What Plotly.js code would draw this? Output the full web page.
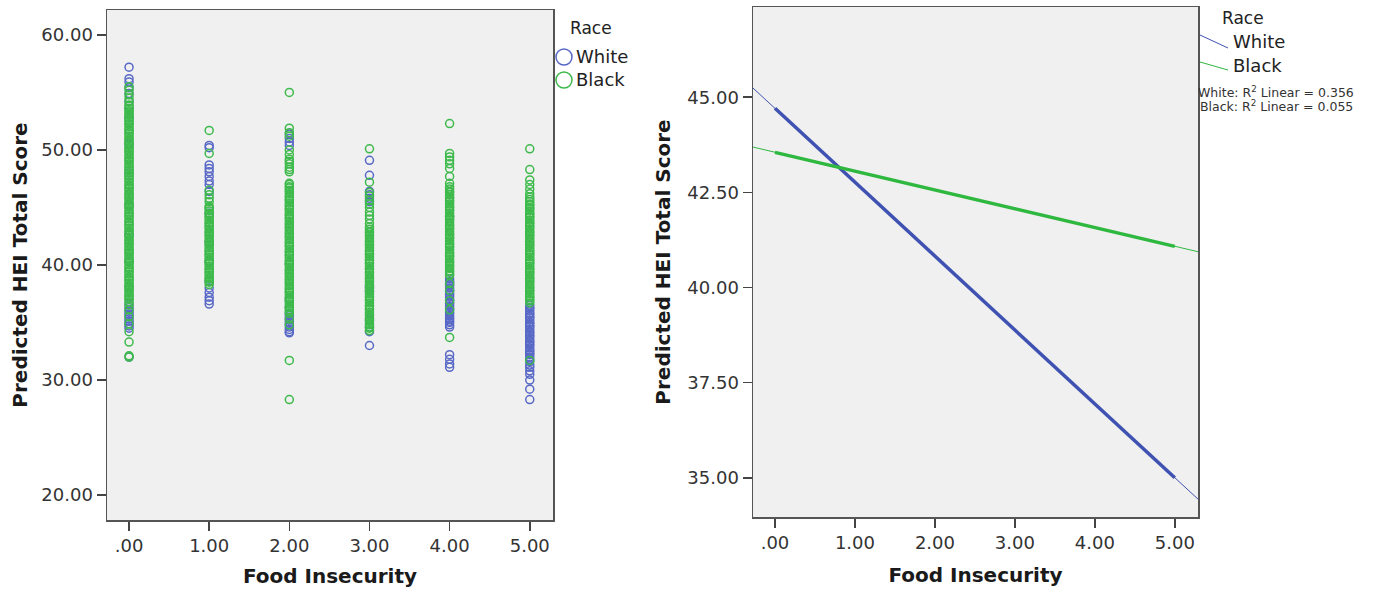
<!DOCTYPE html>
<html>
<head>
<meta charset="utf-8">
<script src="https://cdn.plot.ly/plotly-3.0.1.min.js"></script>
<style>html,body{margin:0;padding:0;background:#fff;}#chart{width:1375px;height:595px;}</style>
</head>
<body>
<div id="chart"></div>
<script>
// ---------- DATA ----------
const foodInsecurityLevels = [0, 1, 2, 3, 4, 5];
const xTickLabels = ['.00', '1.00', '2.00', '3.00', '4.00', '5.00'];
const leftYTicks = [20, 30, 40, 50, 60];
const rightYTicks = [35, 37.5, 40, 42.5, 45];

// Predicted HEI Total Score, White respondents, per food-insecurity level
const white_fi0 = [57.2, 56.2, 55.9, 55.4, 54.9, 54.2, 53.6, 52.8, 50.5, 48.0, 45.2, 42.6, 40.3, 38.1, 36.6, 36.3, 36.1, 35.9, 35.7, 35.5, 35.3, 35.1, 34.9, 34.7, 34.5, 32.0];
const white_fi1 = [50.4, 50.2, 48.7, 48.4, 48.1, 47.7, 47.3, 47.0, 46.4, 44.5, 42.0, 40.3, 38.6, 38.0, 37.6, 37.2, 36.9, 36.6];
const white_fi2 = [51.4, 51.0, 50.7, 50.4, 40.1, 37.0, 36.3, 35.8, 35.6, 35.4, 35.2, 35.0, 34.8, 34.6, 34.4, 34.2, 34.1];
const white_fi3 = [49.1, 47.8, 46.4, 46.1, 45.8, 45.5, 38.2, 38.0, 37.7, 35.2, 34.6, 34.2, 33.0];
const white_fi4 = [44.2, 38.8, 38.6, 38.5, 38.3, 38.2, 38.0, 37.8, 37.7, 37.5, 37.4, 37.2, 37.0, 36.9, 36.7, 36.6, 36.4, 36.2, 36.1, 35.9, 35.8, 35.6, 35.4, 35.3, 35.1, 35.0, 34.8, 34.6, 32.2, 31.8, 31.4, 31.1];
const white_fi5 = [36.5, 36.3, 36.2, 36.0, 35.8, 35.7, 35.5, 35.4, 35.2, 35.0, 34.9, 34.7, 34.6, 34.4, 34.2, 34.1, 33.9, 33.8, 33.6, 33.4, 33.3, 33.1, 33.0, 32.8, 32.6, 32.5, 32.3, 32.2, 32.0, 31.8, 31.6, 31.3, 31.1, 30.8, 30.5, 30.0, 29.2, 28.3];

// Predicted HEI Total Score, Black respondents, per food-insecurity level
const black_fi0 = [32.0, 32.1, 33.3, 34.2, 34.9, 35.5, 36.1, 36.5,
  36.8, 37.0, 37.1, 37.3, 37.4, 37.6, 37.8, 37.9, 38.1, 38.2, 38.4, 38.6, 38.7, 38.9, 39.0, 39.2, 39.4, 39.5, 39.7, 39.8,
  40.0, 40.2, 40.3, 40.5, 40.6, 40.8, 41.0, 41.1, 41.3, 41.4, 41.6, 41.8, 41.9, 42.1, 42.2, 42.4, 42.6, 42.7, 42.9, 43.0,
  43.2, 43.4, 43.5, 43.7, 43.8, 44.0, 44.2, 44.3, 44.5, 44.6, 44.8, 45.0, 45.1, 45.3, 45.4, 45.6, 45.8, 45.9, 46.1, 46.2,
  46.4, 46.6, 46.7, 46.9, 47.0, 47.2, 47.4, 47.5, 47.7, 47.8, 48.0, 48.2, 48.3, 48.5, 48.6, 48.8, 49.0, 49.1, 49.3, 49.4,
  49.6, 49.8, 49.9, 50.1, 50.2, 50.4, 50.6, 50.7, 50.9, 51.0, 51.2, 51.4, 51.5, 51.7, 51.8, 52.0, 52.2, 52.3, 52.5, 52.6,
  52.8, 53.0, 53.1, 53.3, 53.4, 53.6, 53.8, 53.9, 54.2, 54.5, 54.8, 55.2, 55.5];
const black_fi1 = [38.3, 38.5, 38.6, 38.8, 38.9, 39.1, 39.3, 39.4, 39.6, 39.7, 39.9, 40.1, 40.2, 40.4, 40.5, 40.7, 40.9,
  41.0, 41.2, 41.3, 41.5, 41.7, 41.8, 42.0, 42.1, 42.3, 42.5, 42.6, 42.8, 42.9, 43.1, 43.3, 43.4, 43.6, 43.7, 43.9, 44.1,
  44.2, 44.4, 44.5, 44.7, 44.9, 45.0, 45.1, 45.5, 45.8, 46.1, 46.5, 49.7, 51.7];
const black_fi2 = [28.3, 31.7, 34.8, 35.3, 35.8, 36.0, 36.1, 36.3, 36.4, 36.6, 36.8, 36.9, 37.1, 37.2, 37.4, 37.6, 37.7,
  37.9, 38.0, 38.2, 38.4, 38.5, 38.7, 38.8, 39.0, 39.2, 39.3, 39.5, 39.6, 39.8, 40.0, 40.1, 40.3, 40.4, 40.6, 40.8, 40.9,
  41.1, 41.2, 41.4, 41.6, 41.7, 41.9, 42.0, 42.2, 42.4, 42.5, 42.7, 42.8, 43.0, 43.2, 43.3, 43.5, 43.6, 43.8, 44.0, 44.1,
  44.3, 44.4, 44.6, 44.8, 44.9, 45.1, 45.2, 45.4, 45.6, 45.7, 45.9, 46.0, 46.2, 46.4, 46.5, 46.7, 46.8, 47.0, 47.1,
  48.1, 48.3, 48.5, 48.8, 49.0, 49.2, 49.6, 50.0, 51.2, 51.5, 51.9, 55.0];
const black_fi3 = [34.3, 34.5, 34.6, 34.8, 34.9, 35.1, 35.3, 35.4, 35.6, 35.7, 35.9, 36.1, 36.2, 36.4, 36.5, 36.7, 36.9,
  37.0, 37.2, 37.3, 37.5, 37.7, 37.8, 38.0, 38.1, 38.3, 38.5, 38.6, 38.8, 38.9, 39.1, 39.3, 39.4, 39.6, 39.7, 39.9, 40.1,
  40.2, 40.4, 40.5, 40.7, 40.9, 41.0, 41.2, 41.3, 41.5, 41.7, 41.8, 42.0, 42.1, 42.3, 42.5, 42.6, 42.8, 42.9, 43.1, 43.3,
  43.6, 44.0, 44.3, 44.6, 45.0, 45.3, 45.6, 46.0, 46.3, 47.2, 50.1];
const black_fi4 = [33.7, 36.1, 36.9, 37.8, 38.4, 39.1, 39.2, 39.4, 39.5, 39.7, 39.9, 40.0, 40.2, 40.3, 40.5, 40.7, 40.8,
  41.0, 41.1, 41.3, 41.5, 41.6, 41.8, 41.9, 42.1, 42.3, 42.4, 42.6, 42.7, 42.9, 43.1, 43.2, 43.4, 43.5, 43.7, 43.9, 44.0,
  44.2, 44.3, 44.5, 44.7, 44.8, 45.0, 45.1, 45.3, 45.5, 45.6, 45.8, 45.9, 46.1, 46.3, 46.4, 46.6, 46.8, 47.1, 47.7,
  48.4, 48.8, 49.1, 49.4, 49.7, 52.3];
const black_fi5 = [31.7, 36.7, 36.9, 37.0, 37.2, 37.3, 37.5, 37.7, 37.8, 38.0, 38.1, 38.3, 38.5, 38.6, 38.8, 38.9, 39.1,
  39.3, 39.4, 39.6, 39.7, 39.9, 40.1, 40.2, 40.4, 40.5, 40.7, 40.9, 41.0, 41.2, 41.3, 41.5, 41.7, 41.8, 42.0, 42.1, 42.3,
  42.5, 42.6, 42.8, 42.9, 43.1, 43.3, 43.4, 43.6, 43.7, 43.9, 44.1, 44.2, 44.4, 44.5, 44.7, 44.9, 45.0, 45.2, 45.3, 45.5,
  45.7, 45.9, 46.2, 46.6, 47.0, 47.4, 48.3, 50.1];

// Fit lines (right panel): thick over observed range, thin extension to the axis edges
const fitX = [0, 5];
const whiteFit = [44.71, 35.00];
const blackFit = [43.55, 41.08];
const extX = [-0.275, 5.29];
const whiteExt = [45.24, 34.44];
const blackExt = [43.69, 40.94];
const r2Labels = ['White: R<sup>2</sup> Linear = 0.356', 'Black: R<sup>2</sup> Linear = 0.055'];
const raceNames = ['White', 'Black'];

// ---------- STYLE ----------
const W = 1375, H = 595;
const FONT = 'DejaVu Sans';
const BLUE_PT = '#5868c6', GREEN_PT = '#3dba4b';
const BLUE_LN = '#3f52b2', GREEN_LN = '#2fb83f';
const px = x => x / W;
const py = y => 1 - y / H;

function flatten(levels, groups) {
  const xs = [], ys = [];
  groups.forEach((g, i) => g.forEach(v => { xs.push(levels[i]); ys.push(v); }));
  return {x: xs, y: ys};
}
const white = flatten(foodInsecurityLevels, [white_fi0, white_fi1, white_fi2, white_fi3, white_fi4, white_fi5]);
const black = flatten(foodInsecurityLevels, [black_fi0, black_fi1, black_fi2, black_fi3, black_fi4, black_fi5]);

const ptMarker = c => ({symbol: 'circle-open', size: 8, color: c, line: {color: c, width: 1.5}});

const traces = [
  {type: 'scatter', mode: 'markers', name: raceNames[0], x: white.x, y: white.y, xaxis: 'x', yaxis: 'y', marker: ptMarker(BLUE_PT), showlegend: false},
  {type: 'scatter', mode: 'markers', name: raceNames[1], x: black.x, y: black.y, xaxis: 'x', yaxis: 'y', marker: ptMarker(GREEN_PT), showlegend: false},
  {type: 'scatter', mode: 'lines', name: raceNames[0], x: extX, y: whiteExt, xaxis: 'x2', yaxis: 'y2', line: {color: BLUE_LN, width: 1}, showlegend: false},
  {type: 'scatter', mode: 'lines', name: raceNames[1], x: extX, y: blackExt, xaxis: 'x2', yaxis: 'y2', line: {color: GREEN_LN, width: 1}, showlegend: false},
  {type: 'scatter', mode: 'lines', name: raceNames[0], x: fitX, y: whiteFit, xaxis: 'x2', yaxis: 'y2', line: {color: BLUE_LN, width: 3.5}, showlegend: false},
  {type: 'scatter', mode: 'lines', name: raceNames[1], x: fitX, y: blackFit, xaxis: 'x2', yaxis: 'y2', line: {color: GREEN_LN, width: 3.5}, showlegend: false}
];

const axisCommon = {
  showgrid: false, zeroline: false, showline: true, mirror: true,
  linecolor: '#555', linewidth: 1.5, ticks: 'outside', ticklen: 9, tickwidth: 1.5, tickcolor: '#444',
  tickfont: {family: FONT, size: 18, color: '#333'}, automargin: false
};
const titleFont = {family: FONT, size: 20, color: '#1a1a1a', weight: 'bold'};

const layout = {
  width: W, height: H,
  margin: {l: 0, r: 0, t: 0, b: 0},
  paper_bgcolor: '#ffffff', plot_bgcolor: '#f0f0f0',
  font: {family: FONT},
  showlegend: false,
  xaxis: Object.assign({}, axisCommon, {
    domain: [px(107), px(553)], range: [-0.275, 5.29], anchor: 'y',
    tickvals: foodInsecurityLevels, ticktext: xTickLabels,
    title: {text: 'Food Insecurity', font: titleFont, standoff: 14}
  }),
  yaxis: Object.assign({}, axisCommon, {
    domain: [py(520), py(10)], range: [17.83, 62.17], anchor: 'x',
    tickvals: leftYTicks, tickformat: '.2f',
    title: {text: 'Predicted HEI Total Score', font: titleFont, standoff: 8}
  }),
  xaxis2: Object.assign({}, axisCommon, {
    domain: [px(753), px(1198)], range: [-0.275, 5.29], anchor: 'y2',
    tickvals: foodInsecurityLevels, ticktext: xTickLabels,
    title: {text: 'Food Insecurity', font: titleFont, standoff: 16}
  }),
  yaxis2: Object.assign({}, axisCommon, {
    domain: [py(517), py(7)], range: [33.97, 47.37], anchor: 'x2',
    tickvals: rightYTicks, tickformat: '.2f',
    title: {text: 'Predicted HEI Total Score', font: titleFont, standoff: 11}
  }),
  annotations: [
    {xref: 'paper', yref: 'paper', x: px(568), y: py(28), xanchor: 'left', yanchor: 'middle', showarrow: false, text: 'Race', font: {family: FONT, size: 17, color: '#222'}},
    {xref: 'paper', yref: 'paper', x: px(574), y: py(57), xanchor: 'left', yanchor: 'middle', showarrow: false, text: raceNames[0], font: {family: FONT, size: 18, color: '#222'}},
    {xref: 'paper', yref: 'paper', x: px(574), y: py(80), xanchor: 'left', yanchor: 'middle', showarrow: false, text: raceNames[1], font: {family: FONT, size: 18, color: '#222'}},
    {xref: 'paper', yref: 'paper', x: px(1220), y: py(18), xanchor: 'left', yanchor: 'middle', showarrow: false, text: 'Race', font: {family: FONT, size: 17, color: '#222'}},
    {xref: 'paper', yref: 'paper', x: px(1231), y: py(42), xanchor: 'left', yanchor: 'middle', showarrow: false, text: raceNames[0], font: {family: FONT, size: 18, color: '#222'}},
    {xref: 'paper', yref: 'paper', x: px(1231), y: py(65), xanchor: 'left', yanchor: 'middle', showarrow: false, text: raceNames[1], font: {family: FONT, size: 18, color: '#222'}},
    {xref: 'paper', yref: 'paper', x: px(1276), y: py(92), xanchor: 'center', yanchor: 'middle', showarrow: false, text: r2Labels[0], font: {family: FONT, size: 12.5, color: '#333'}},
    {xref: 'paper', yref: 'paper', x: px(1276), y: py(106), xanchor: 'center', yanchor: 'middle', showarrow: false, text: r2Labels[1], font: {family: FONT, size: 12.5, color: '#333'}}
  ],
  shapes: [
    {type: 'circle', xref: 'paper', yref: 'paper', xsizemode: 'pixel', ysizemode: 'pixel', xanchor: px(564), yanchor: py(57), x0: -8, x1: 8, y0: -8, y1: 8, line: {color: BLUE_PT, width: 1.5}},
    {type: 'circle', xref: 'paper', yref: 'paper', xsizemode: 'pixel', ysizemode: 'pixel', xanchor: px(564), yanchor: py(80), x0: -8, x1: 8, y0: -8, y1: 8, line: {color: GREEN_PT, width: 1.5}},
    {type: 'line', xref: 'paper', yref: 'paper', xsizemode: 'pixel', ysizemode: 'pixel', xanchor: px(1200), yanchor: py(35), x0: 0, x1: 28, y0: 0, y1: -13, line: {color: BLUE_LN, width: 1}},
    {type: 'line', xref: 'paper', yref: 'paper', xsizemode: 'pixel', ysizemode: 'pixel', xanchor: px(1200), yanchor: py(62), x0: 0, x1: 28, y0: 0, y1: -8, line: {color: GREEN_LN, width: 1}}
  ]
};

Plotly.newPlot('chart', traces, layout, {displayModeBar: false, staticPlot: true});
</script>
</body>
</html>
